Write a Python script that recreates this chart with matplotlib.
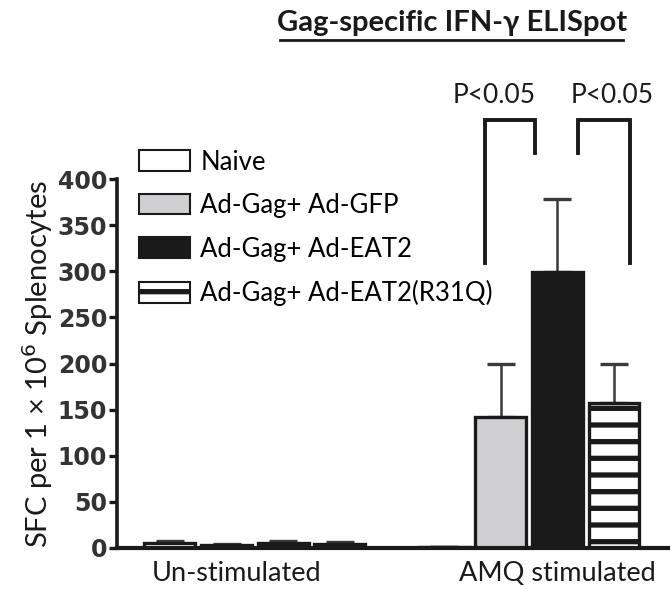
import numpy as np
import matplotlib.pyplot as plt

groups = ["Un-stimulated", "AMQ stimulated"]
series = ["Naive", "Ad-Gag+ Ad-GFP", "Ad-Gag+ Ad-EAT2", "Ad-Gag+ Ad-EAT2(R31Q)"]
means = {
    "Naive": [5, 1],
    "Ad-Gag+ Ad-GFP": [3, 142],
    "Ad-Gag+ Ad-EAT2": [5, 299],
    "Ad-Gag+ Ad-EAT2(R31Q)": [4, 157],
}
errs = {
    "Naive": [3, 0],
    "Ad-Gag+ Ad-GFP": [1, 57],
    "Ad-Gag+ Ad-EAT2": [3, 79],
    "Ad-Gag+ Ad-EAT2(R31Q)": [2, 43],
}
yticks = [0, 50, 100, 150, 200, 250, 300, 350, 400]
# significance pairs: (series a, series b, label)
sig = [("Ad-Gag+ Ad-GFP", "Ad-Gag+ Ad-EAT2", "P<0.05"),
       ("Ad-Gag+ Ad-EAT2", "Ad-Gag+ Ad-EAT2(R31Q)", "P<0.05")]

styles = {
    "Naive": dict(color="white", hatch=None),
    "Ad-Gag+ Ad-GFP": dict(color="#cfcfd1", hatch=None),
    "Ad-Gag+ Ad-EAT2": dict(color="#1a1a1a", hatch=None),
    "Ad-Gag+ Ad-EAT2(R31Q)": dict(color="white", hatch="-"),
}

plt.rcParams["hatch.linewidth"] = 3.8
plt.rcParams["hatch.color"] = "#1a1a1a"
txt_font = ["Lato", "DejaVu Sans"]

fig = plt.figure(figsize=(6.71, 5.95), dpi=100)
ax = fig.add_axes([0.174, 0.079, 0.822, 0.62])

group_pos = np.array([0.0, 4.85])
width = 0.9
xpos = {}
for i, s in enumerate(series):
    x = group_pos + i
    xpos[s] = x
    st = styles[s]
    ax.bar(x, means[s], width=width, color=st["color"], edgecolor="#1a1a1a",
           linewidth=2.4, hatch=st["hatch"], label=s, zorder=2)
    lower = np.zeros(len(x))
    ax.errorbar(x, means[s], yerr=[lower, errs[s]], fmt="none", ecolor="#3a3a3a",
                elinewidth=1.8, capsize=10, capthick=2.4, zorder=1)

# significance brackets
leg_low = [309, 428]
text_shift = [-0.28, 0.14]
for k, (a, b, lab) in enumerate(sig):
    xa = xpos[a][1] - 0.28 if k == 0 else xpos[a][1] + 0.37
    xb = xpos[b][1] - 0.39 if k == 0 else xpos[b][1] + 0.29
    ya = leg_low[0] if k == 0 else leg_low[1]
    yb = leg_low[1] if k == 0 else leg_low[0]
    ax.plot([xa, xa, xb, xb], [ya, 464, 464, yb], color="#1a1a1a", lw=2.8,
            clip_on=False, solid_joinstyle="miter")
    ax.text((xa + xb) / 2 + text_shift[k], 477, lab, ha="center", va="bottom",
            fontsize=19, family=txt_font, color="#1a1a1a", clip_on=False)

ax.set_xlim(-0.94, 8.81)
ax.set_ylim(0, 400)
ax.set_yticks(yticks)
ax.set_yticklabels([str(t) for t in yticks], fontsize=17, fontweight="bold",
                   family="DejaVu Sans", color="#333333")
ax.tick_params(axis="y", direction="out", length=6, width=2.4, pad=1, colors="#1a1a1a")
for lbl in ax.get_yticklabels():
    lbl.set_color("#333333")
ax.set_xticks([])
for sp in ["top", "right"]:
    ax.spines[sp].set_visible(False)
ax.spines["left"].set_linewidth(2.6)
ax.spines["bottom"].set_linewidth(3.0)
ax.spines["left"].set_color("#1a1a1a")
ax.spines["bottom"].set_color("#1a1a1a")

label_x = [1.17, 6.85]
for gx, g in zip(label_x, groups):
    ax.text(gx, -14, g, ha="center", va="top", fontsize=19.5, family=txt_font,
            color="#1a1a1a")

ax.set_ylabel("SFC per 1 \u00d7 10$^{6}$ Splenocytes", fontsize=21, family=txt_font,
              color="#1a1a1a", labelpad=2)

leg = ax.legend(loc="upper left", bbox_to_anchor=(0.04, 1.08), frameon=False,
                prop={"family": txt_font, "size": 18.5}, handlelength=2.0,
                handleheight=0.85, labelspacing=0.72, handletextpad=0.4,
                borderaxespad=0, borderpad=0)
for h in leg.legend_handles:
    h.set_linewidth(1.5)

fig.text(0.674, 1 - 31 / 595, "Gag-specific IFN-\u03b3 ELISpot", ha="center",
         va="baseline", fontsize=21, fontweight="bold", family=txt_font, color="#1a1a1a")
fig.add_artist(plt.Line2D([0.417, 0.929], [1 - 40 / 595] * 2, color="#1a1a1a", lw=2.0))

fig.savefig("out.png", dpi=100)
